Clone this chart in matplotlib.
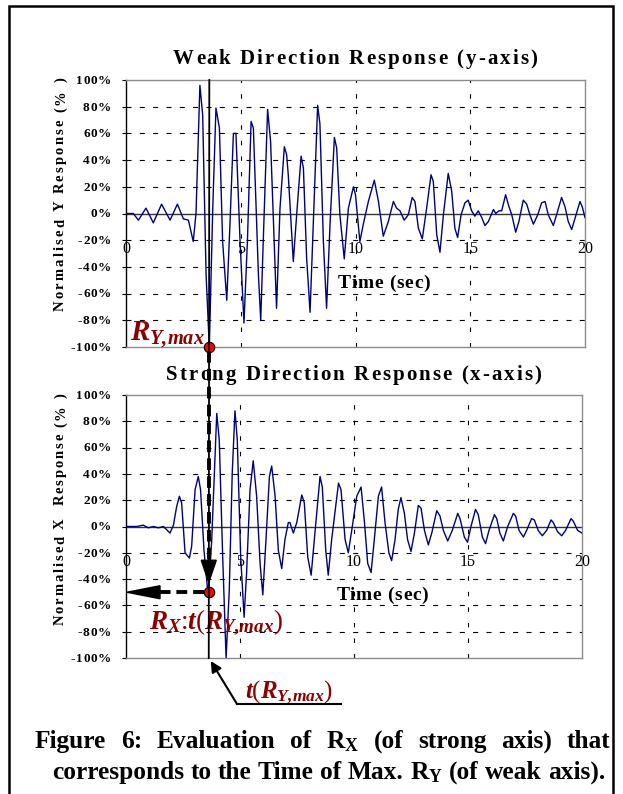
import matplotlib
matplotlib.use('Agg')
import matplotlib.pyplot as plt
from matplotlib.patches import FancyArrowPatch, Rectangle, Polygon
from matplotlib.lines import Line2D

plt.rcParams['font.family'] = ['Liberation Serif', 'DejaVu Serif']
plt.rcParams['mathtext.fontset'] = 'custom'
plt.rcParams['mathtext.rm'] = 'Liberation Serif:italic:bold'
plt.rcParams['mathtext.it'] = 'Liberation Serif:italic:bold'
plt.rcParams['mathtext.bf'] = 'Liberation Serif:bold'

W, H = 623, 794

# weak direction (y-axis) normalised response, %
t_y = [0.0, 0.32, 0.54, 0.87, 1.19, 1.55, 1.92, 2.24, 2.50, 2.72, 2.93, 3.05, 3.22, 3.34,
       3.49, 3.63, 3.78, 3.92, 4.07, 4.21, 4.39, 4.53, 4.68, 4.79, 4.97, 5.14, 5.29, 5.45,
       5.55, 5.77, 5.87, 5.98, 6.17, 6.30, 6.56, 6.71, 6.90, 7.00, 7.07, 7.29, 7.44, 7.63,
       7.73, 7.87, 8.02, 8.16, 8.35, 8.45, 8.60, 8.74, 8.89, 9.08, 9.18, 9.32, 9.51, 9.69,
       9.91, 10.00, 10.19, 10.34, 10.56, 10.82, 11.00, 11.21, 11.43, 11.65, 11.79, 11.94,
       12.12, 12.30, 12.47, 12.59, 12.74, 12.91, 13.10, 13.29, 13.39, 13.54, 13.68, 13.83,
       14.04, 14.19, 14.33, 14.45, 14.60, 14.77, 14.91, 15.06, 15.20, 15.35, 15.50, 15.64,
       15.79, 16.01, 16.11, 16.25, 16.37, 16.54, 16.69, 16.81, 16.98, 17.12, 17.31, 17.46,
       17.60, 17.75, 17.94, 18.11, 18.26, 18.40, 18.62, 18.76, 18.98, 19.13, 19.27, 19.42,
       19.61, 19.78, 19.88, 20.0]
r_y = [0, 0, -5, 4, -7, 7, -5, 7, -4, -5, -21, 0, 96, 74,
       -46, -100, 4, 79, 64, -21, -65, -8, 60, 60, -21, -82, -21, 69,
       64, -46, -80, -21, 78, 54, -71, 4, 50, 44, 29, -36, 0, 43,
       34, -33, -74, -8, 81, 67, -21, -71, -8, 57, 49, -1, -34, 4,
       20, 14, -21, -8, 9, 25, 9, -17, -6, 9, 4, 2,
       -5, -1, 12, 9, -11, -19, 4, 29, 24, -16, -29, -1,
       30, 17, -11, -18, -1, 8, 10, 2, -2, 2, -3, -9,
       -6, 3, 0, 2, 2, 14, 5, -1, -14, -6, 10, 7,
       -1, -8, -1, 8, 9, -1, -9, -1, 12, 5, -6, -12,
       -1, 9, 5, -3]

# strong direction (x-axis) normalised response, %
t_x = [0.0, 0.18, 0.47, 0.76, 0.98, 1.20, 1.42, 1.64, 1.93, 2.08, 2.22, 2.34, 2.44, 2.59,
       2.78, 2.88, 3.03, 3.17, 3.27, 3.42, 3.61, 3.76, 3.98, 4.09, 4.24, 4.39, 4.53, 4.66,
       4.78, 4.88, 5.03, 5.18, 5.29, 5.44, 5.58, 5.73, 5.88, 6.00, 6.14, 6.29, 6.39, 6.54,
       6.68, 6.83, 6.97, 7.12, 7.19, 7.34, 7.49, 7.71, 7.82, 7.97, 8.12, 8.26, 8.51, 8.61,
       8.76, 8.87, 9.02, 9.32, 9.43, 9.61, 9.75, 9.90, 10.12, 10.31, 10.46, 10.60, 10.75,
       10.89, 11.07, 11.21, 11.36, 11.53, 11.65, 11.80, 11.94, 12.06, 12.21, 12.35, 12.50,
       12.65, 12.82, 12.94, 13.09, 13.26, 13.41, 13.63, 13.77, 13.92, 14.11, 14.31, 14.55,
       14.65, 14.84, 14.98, 15.13, 15.33, 15.45, 15.63, 15.77, 15.92, 16.16, 16.26, 16.40,
       16.55, 16.74, 16.99, 17.09, 17.24, 17.43, 17.57, 17.79, 17.91, 18.08, 18.26, 18.45,
       18.64, 18.74, 18.93, 19.11, 19.28, 19.52, 19.62, 19.81, 20.0]
r_x = [0, 0, 0, 1, -1, 0, -1, 0, -5, 1, 15, 23, 18, -20,
       -24, -15, 28, 38, 28, -18, -54, -10, 86, 66, -23, -100, -48, 41,
       88, 66, -23, -69, -35, 28, 50, 23, -28, -52, -10, 38, 46, 23,
       -18, -32, -10, 3, 3, -5, 3, 24, 18, -23, -37, -10, 38, 30,
       -18, -37, -10, 33, 28, -10, -20, -3, 23, 30, 3, -28, -35,
       -10, 23, 30, 3, -20, -26, -10, 13, 22, 10, -10, -19,
       -5, 16, 14, -3, -14, -5, 12, 8, -3, -11, -3, 10,
       6, -8, -12, 0, 13, 9, -8, -13, -3, 9, 6, -5,
       -11, 0, 10, 8, -3, -8, -3, 6, 5, -3, -7, -3,
       5, 3, -4, -7, -3, 6, 4, -3, -5]

t_ry_max = 3.63      # time of max weak-axis response (sec)
ry_max = -100
rx_at_t = -50        # strong-axis response at that time

y_ticks = [100, 80, 60, 40, 20, 0, -20, -40, -60, -80, -100]
x_ticks = [0, 5, 10, 15, 20]

dark_red = '#8b0000'
navy = '#000080'

fig = plt.figure(figsize=(W / 100, H / 100), dpi=100)
renderer = fig.canvas.get_renderer()


def fpos(x, y):
    # reference pixel (y down) -> figure fraction
    return x / W, 1 - y / H


def text_width(s, **kw):
    t = fig.text(0, 0, s, **kw)
    w = t.get_window_extent(renderer).width
    t.remove()
    return w


def put_spaced(x, y, s, gap=0.0, width=None, ha='left', rot=0, **kw):
    # letter-spaced text, (x, y) = baseline anchor in reference pixels
    ref = text_width('I', **kw)
    offs = [text_width(s[:i] + 'I', **kw) - ref if i else 0.0 for i in range(len(s))]
    natural = text_width(s, **kw)
    if width is not None:
        gap = (width - natural) / (len(s) - 1)
    total = natural + gap * (len(s) - 1)
    start = {'left': 0.0, 'center': -total / 2, 'right': -total}[ha]
    for i, ch in enumerate(s):
        if ch == ' ':
            continue
        d = start + offs[i] + gap * i
        if rot == 90:
            fig.text(*fpos(x, y - d), ch, rotation=90, rotation_mode='anchor',
                     ha='left', va='baseline', **kw)
        else:
            fig.text(*fpos(x + d, y), ch, ha='left', va='baseline', **kw)


def put_justified(x0, x1, y, s, **kw):
    words = s.split(' ')
    ws = [text_width(w, **kw) for w in words]
    gap = (x1 - x0 - sum(ws)) / (len(words) - 1)
    x = x0
    for w, wd in zip(words, ws):
        fig.text(*fpos(x, y), w, ha='left', va='baseline', **kw)
        x += wd + gap


def ref_xy(ax, x, y):
    d = ax.transData.transform((x, y))
    return d[0], H - d[1]


def setup(ax, title, title_span, ylabel, ylabel_span):
    ax.set_xlim(0, 20)
    ax.set_ylim(-100, 100)
    for s in ['top', 'right', 'bottom']:
        ax.spines[s].set_color('#8c8c8c')
        ax.spines[s].set_linewidth(1.0)
    ax.spines['left'].set_color('black')
    ax.spines['left'].set_linewidth(1.0)
    for v in y_ticks:
        if v not in (0, 100, -100):
            ax.axhline(v, color='black', lw=0.8, ls=(0, (4.5, 7.5)), zorder=1)
    for t in x_ticks[1:-1]:
        ax.axvline(t, color='black', lw=0.8, ls=(0, (4.0, 10.0)), zorder=1)
    ax.axhline(0, color='#333333', lw=1.0, zorder=2)
    ax.set_xticks([])
    ax.set_yticks(y_ticks)
    ax.set_yticklabels([])
    ax.tick_params(axis='y', direction='out', length=3, width=0.8)
    for v in y_ticks:
        _, ry = ref_xy(ax, 0, v)
        put_spaced(111, ry + 3.8, f'{v}%', gap=0.7, ha='right', fontsize=9.5,
                   fontweight='bold')
    for t in x_ticks:
        ax.annotate(str(t), xy=(t, 0), xytext=(0, -20), textcoords='offset points',
                    ha='center', va='top', fontsize=11.5)
    lx, ly = ref_xy(ax, 11.24, -56)
    put_spaced(lx, ly, 'Time (sec)', width=92, ha='center', fontsize=14,
               fontweight='bold')
    put_spaced(title_span[0], title_span[2], title, width=title_span[1] - title_span[0],
               fontsize=15, fontweight='bold')
    put_spaced(64, ylabel_span[0], ylabel, width=ylabel_span[0] - ylabel_span[1], rot=90,
               fontsize=10.5, fontweight='bold')


ax1 = fig.add_axes([126 / W, 1 - 347 / H, 459 / W, 267 / H])
ax2 = fig.add_axes([126 / W, 1 - 658 / H, 456 / W, 263 / H])

ax1.plot(t_y, r_y, color=navy, lw=1.0, zorder=3)
ax2.plot(t_x, r_x, color=navy, lw=1.0, zorder=3)
setup(ax1, 'Weak Direction Response (y-axis)', (173, 537, 64),
      'Normalised Y Response (% )', (311, 77))
setup(ax2, 'Strong Direction Response (x-axis)', (166, 541, 380),
      'Normalised X  Response (% )', (625, 393))

# outer frame
fig.add_artist(Rectangle(fpos(9, 830), (613 - 9) / W, (830 - 6) / H,
                         transform=fig.transFigure, fill=False, ec='black', lw=1.8))

to_fig = fig.transFigure.inverted()
p_top = to_fig.transform(ax1.transData.transform((t_ry_max, ry_max)))
p_bot = to_fig.transform(ax2.transData.transform((t_ry_max, rx_at_t)))
p_up = to_fig.transform(ax1.transData.transform((t_ry_max, 100)))
p_low = to_fig.transform(ax2.transData.transform((t_ry_max, -100)))
p_left = to_fig.transform(ax2.transData.transform((0, rx_at_t)))

# vertical time marker
fig.add_artist(Line2D([p_up[0], p_low[0]], [p_up[1], p_low[1]], color='black', lw=1.3,
                      transform=fig.transFigure, zorder=5))

px, py = 1 / W, 1 / H
# dashed arrow down
fig.add_artist(Line2D([p_top[0], p_top[0]], [p_top[1] - 4 * py, p_bot[1] + 30 * py],
                      color='black', lw=2.8, ls=(0, (3.0, 1.6)),
                      transform=fig.transFigure, zorder=6))
fig.add_artist(Polygon([[p_bot[0] - 7.5 * px, p_bot[1] + 32 * py],
                        [p_bot[0] + 7.5 * px, p_bot[1] + 32 * py],
                        [p_bot[0], p_bot[1] + 10 * py]],
                       closed=True, color='black', transform=fig.transFigure, zorder=6))
# dashed arrow left
fig.add_artist(Line2D([p_bot[0] - 5 * px, p_left[0] + 30 * px], [p_bot[1], p_bot[1]],
                      color='black', lw=2.8, ls=(0, (2.8, 1.5)),
                      transform=fig.transFigure, zorder=6))
fig.add_artist(Polygon([[p_left[0] + 34 * px, p_bot[1] + 6.5 * py],
                        [p_left[0] + 34 * px, p_bot[1] - 6.5 * py],
                        [p_left[0] + 1 * px, p_bot[1]]],
                       closed=True, color='black', transform=fig.transFigure, zorder=6))

ax1.plot([t_ry_max], [ry_max], 'o', ms=7.5, mfc='red', mec='black', mew=0.8,
         zorder=7, clip_on=False)
ax2.plot([t_ry_max], [rx_at_t], 'o', ms=7.5, mfc='red', mec='black', mew=0.8,
         zorder=7, clip_on=False)

ax1.annotate(r'$R_{Y{,}max}$', xy=(t_ry_max, ry_max), xytext=(-3, 5),
             textcoords='offset points', ha='right', va='baseline', fontsize=21,
             color=dark_red, zorder=8, annotation_clip=False)
ax2.annotate(r'$R_{X}$:$t$($R_{Y{,}max}$)', xy=(t_ry_max, rx_at_t), xytext=(-43, -26),
             textcoords='offset points', ha='left', va='baseline', fontsize=19.5,
             color=dark_red, zorder=8, annotation_clip=False)

# t(R_Y,max) pointer
tail = fpos(237, 704)
fig.add_artist(FancyArrowPatch(tail, (p_low[0] + 2 * px, p_low[1] - 3 * py),
                               arrowstyle='-|>', mutation_scale=16, color='black', lw=1.5,
                               shrinkA=0, shrinkB=0, transform=fig.transFigure, zorder=6))
fig.add_artist(Line2D([tail[0], 341 / W], [tail[1], tail[1]], color='black', lw=1.5,
                      transform=fig.transFigure))
fig.text(*fpos(245, 698), r'$t$($R_{Y{,}max}$)', fontsize=18, color=dark_red,
         ha='left', va='baseline')

# caption
put_justified(35, 610, 748, r'Figure 6: Evaluation of R$_{\mathbf{X}}$ (of strong axis) that',
              fontsize=18.3, fontweight='bold')
put_justified(52, 605, 779, r'corresponds to the Time of Max. R$_{\mathbf{Y}}$ (of weak axis).',
              fontsize=18.3, fontweight='bold')

fig.savefig('out.png', dpi=100)
